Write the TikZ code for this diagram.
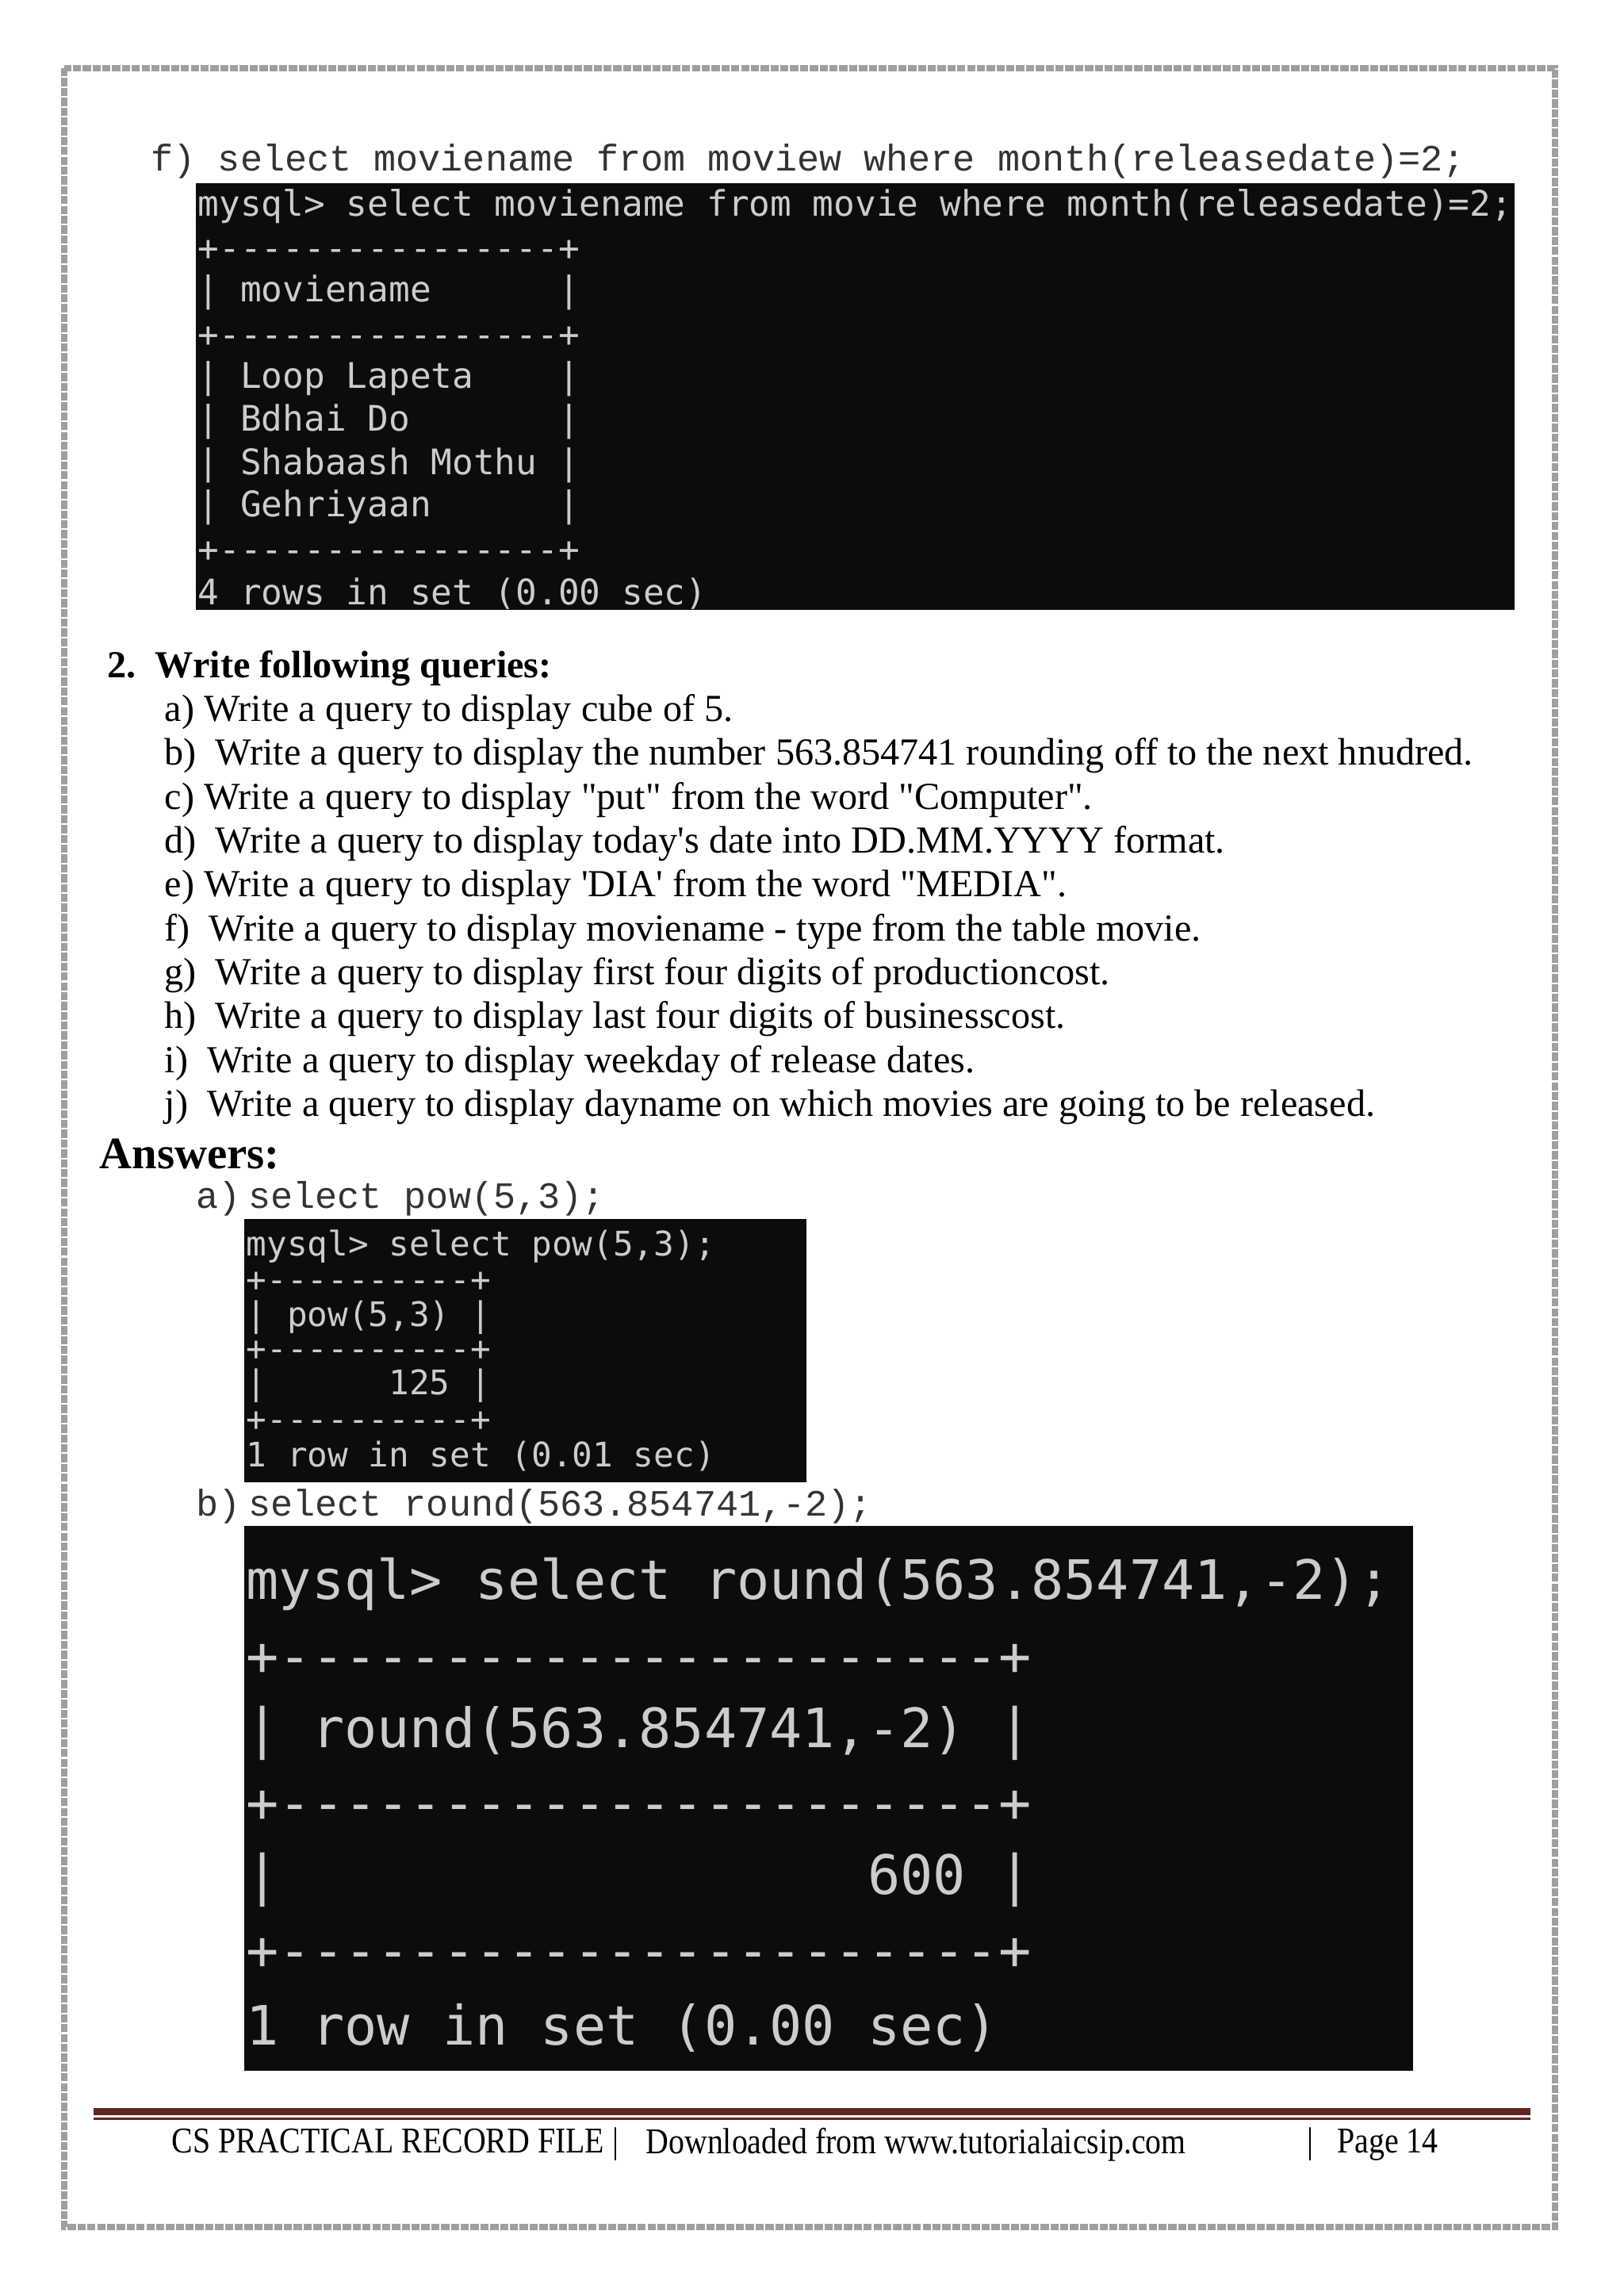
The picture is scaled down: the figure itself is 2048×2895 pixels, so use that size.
\documentclass[tikz,border=0pt]{standalone}
\usepackage{fontspec}
\setmainfont{Liberation Serif}[Ligatures=TeXOff]
\newfontfamily\termf{DejaVu Sans Mono}
\newfontfamily\courf{Liberation Mono}
\definecolor{termgray}{HTML}{CCCCCC}
\definecolor{termbg}{HTML}{0C0C0C}
\definecolor{footred}{HTML}{632523}
\begin{document}
\begin{tikzpicture}[x=0.2905pt,y=-0.2905pt,
  termA/.style={anchor=west,inner sep=0,text=termgray,font=\termf\fontsize{12.9}{14}\selectfont},
  termB/.style={anchor=west,inner sep=0,text=termgray,font=\termf\fontsize{12.4}{14}\selectfont},
  termC/.style={anchor=west,inner sep=0,text=termgray,font=\termf\fontsize{19.9}{22}\selectfont},
  code/.style={anchor=west,inner sep=0,text=black!80,font=\courf\fontsize{13.6}{16}\selectfont},
  item/.style={anchor=west,inner sep=0,font=\fontsize{14}{16}\selectfont},
  foot/.style={anchor=west,inner sep=0,xscale=0.87,font=\fontsize{13.3}{15}\selectfont}]
\useasboundingbox[fill=white] (0,0) rectangle (2048,2895);
% border
\draw[line width=8*0.2905pt,gray!75,dash pattern=on 3pt off 0.6pt] (81,86) rectangle (1961,2808);
% box 1
\node[code] (fq) at (190,203) {f) select moviename from moview where month(releasedate)=2;};
\fill[termbg] (247,231) rectangle (1910,769);
\node[termA] (a1) at (249,260) {mysql> select moviename from movie where month(releasedate)=2;};
\node[termA] (a2) at (249,316) {+----------------+};
\node[termA] (a3) at (249,369) {|~moviename~~~~~~|};
\node[termA] (a4) at (249,425) {+----------------+};
\node[termA] (a5) at (249,478) {|~Loop~Lapeta~~~~|};
\node[termA] (a6) at (249,532) {|~Bdhai~Do~~~~~~~|};
\node[termA] (a7) at (249,587) {|~Shabaash~Mothu~|};
\node[termA] (a8) at (249,640) {|~Gehriyaan~~~~~~|};
\node[termA] (a9) at (249,696) {+----------------+};
\node[termA] (a10) at (249,749) {4 rows in set (0.00 sec)};
% queries
\node[item,font=\bfseries\fontsize{14}{16}\selectfont] (q0) at (135,843) {2.\ \ Write following queries:};
\node[item] (qa) at (207,898) {a) Write a query to display cube of 5.};
\node[item] (qb) at (207,953) {b)\ \ Write a query to display the number 563.854741 rounding off to the next hnudred.};
\node[item] (qc) at (207,1009) {c) Write a query to display "put" from the word "Computer".};
\node[item] (qd) at (207,1064) {d)\ \ Write a query to display today's date into DD.MM.YYYY format.};
\node[item] (qe) at (207,1119) {e) Write a query to display 'DIA' from the word "MEDIA".};
\node[item] (qf) at (207,1175) {f)\ \ Write a query to display moviename - type from the table movie.};
\node[item] (qg) at (207,1230) {g)\ \ Write a query to display first four digits of productioncost.};
\node[item] (qh) at (207,1285) {h)\ \ Write a query to display last four digits of businesscost.};
\node[item] (qi) at (207,1341) {i)\ \ Write a query to display weekday of release dates.};
\node[item] (qj) at (207,1396) {j)\ \ Write a query to display dayname on which movies are going to be released.};
\node[item,font=\bfseries\fontsize{16.5}{18}\selectfont] (ans) at (125,1455) {Answers:};
% box 2
\node[code] (ca) at (247,1511) {a)\hspace{0.2em}select pow(5,3);};
\fill[termbg] (308,1537) rectangle (1017,1869);
\node[termB] (b1) at (310,1572) {mysql> select pow(5,3);};
\node[termB] (b2) at (310,1616) {+----------+};
\node[termB] (b3) at (310,1661) {|~pow(5,3)~|};
\node[termB] (b4) at (310,1703) {+----------+};
\node[termB] (b5) at (310,1747) {|~~~~~~125~|};
\node[termB] (b6) at (310,1792) {+----------+};
\node[termB] (b7) at (310,1836) {1 row in set (0.01 sec)};
% box 3
\node[code] (cb) at (247,1899) {b)\hspace{0.2em}select round(563.854741,-2);};
\fill[termbg] (308,1924) rectangle (1782,2611);
\node[termC] (c1) at (310,1997) {mysql> select round(563.854741,-2);};
\node[termC] (c2) at (310,2093) {+----------------------+};
\node[termC] (c3) at (310,2185) {|~round(563.854741,-2)~|};
\node[termC] (c4) at (310,2278) {+----------------------+};
\node[termC] (c5) at (310,2370) {|~~~~~~~~~~~~~~~~~~600~|};
\node[termC] (c6) at (310,2464) {+----------------------+};
\node[termC] (c7) at (310,2557) {1 row in set (0.00 sec)};
% footer
\fill[footred] (118,2658) rectangle (1930,2667);
\fill[footred] (118,2670) rectangle (1930,2673);
\node[foot] (f1) at (216,2704) {CS PRACTICAL RECORD FILE |};
\node[foot] (f2) at (814,2704) {Downloaded from www.tutorialaicsip.com};
\node[foot] (f3) at (1648,2704) {|\ \ \ Page 14};
\end{tikzpicture}
\end{document}
